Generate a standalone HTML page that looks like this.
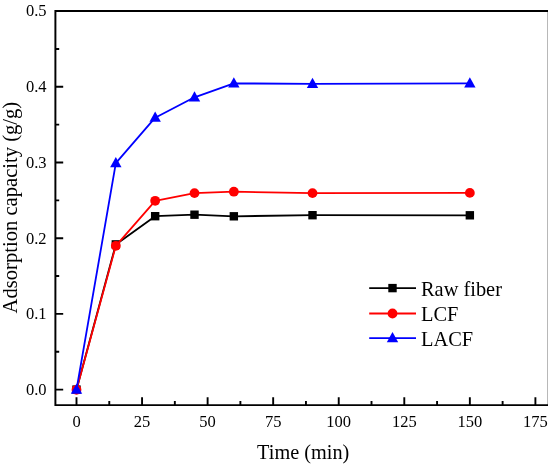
<!DOCTYPE html>
<html><head><meta charset="utf-8"><style>
html,body{margin:0;padding:0;background:#fff;}
svg{display:block;}
text{font-family:"Liberation Serif",serif;fill:#000;}
svg{will-change:transform;}
.tl{font-size:16.5px;}
.at{font-size:20.3px;}
.yt{font-size:20.6px;}
.lg{font-size:20.4px;}
</style></head><body>
<svg width="548" height="465" viewBox="0 0 548 465">
<rect width="548" height="465" fill="#fff"/>
<path d="M55.4,10.9 H548.7 V405.1 H55.4 Z" fill="none" stroke="#000" stroke-width="1.95"/>
<path d="M55.4,389.60 H63.2 M55.4,313.90 H63.2 M55.4,238.20 H63.2 M55.4,162.50 H63.2 M55.4,86.80 H63.2 M55.4,11.10 H63.2 M55.4,351.75 H59.2 M55.4,276.05 H59.2 M55.4,200.35 H59.2 M55.4,124.65 H59.2 M55.4,48.95 H59.2 M76.50,405.1 V397.2 M142.06,405.1 V397.2 M207.62,405.1 V397.2 M273.17,405.1 V397.2 M338.73,405.1 V397.2 M404.29,405.1 V397.2 M469.85,405.1 V397.2 M535.40,405.1 V397.2 M109.28,405.1 V401 M174.84,405.1 V401 M240.39,405.1 V401 M305.95,405.1 V401 M371.51,405.1 V401 M437.07,405.1 V401 M502.62,405.1 V401 M568.18,405.1 V401" stroke="#000" stroke-width="1.9" fill="none"/>
<text x="46.6" y="394.90" text-anchor="end" class="tl">0.0</text>
<text x="46.6" y="319.20" text-anchor="end" class="tl">0.1</text>
<text x="46.6" y="243.50" text-anchor="end" class="tl">0.2</text>
<text x="46.6" y="167.80" text-anchor="end" class="tl">0.3</text>
<text x="46.6" y="92.10" text-anchor="end" class="tl">0.4</text>
<text x="46.6" y="16.40" text-anchor="end" class="tl">0.5</text>
<text x="76.50" y="426.6" text-anchor="middle" class="tl">0</text>
<text x="142.06" y="426.6" text-anchor="middle" class="tl">25</text>
<text x="207.62" y="426.6" text-anchor="middle" class="tl">50</text>
<text x="273.17" y="426.6" text-anchor="middle" class="tl">75</text>
<text x="338.73" y="426.6" text-anchor="middle" class="tl">100</text>
<text x="404.29" y="426.6" text-anchor="middle" class="tl">125</text>
<text x="469.85" y="426.6" text-anchor="middle" class="tl">150</text>
<text x="535.40" y="426.6" text-anchor="middle" class="tl">175</text>
<text x="303.2" y="458.5" text-anchor="middle" class="at">Time (min)</text>
<text transform="translate(17,207.6) rotate(-90)" x="0" y="0" text-anchor="middle" class="yt">Adsorption capacity (g/g)</text>
<polyline points="76.50,389.60 115.83,244.40 155.17,216.20 194.50,214.70 233.84,216.30 312.51,215.20 469.85,215.30" fill="none" stroke="#000" stroke-width="1.8" stroke-linejoin="round"/>
<rect x="72.30" y="385.40" width="8.4" height="8.4" fill="#000"/>
<rect x="111.63" y="240.20" width="8.4" height="8.4" fill="#000"/>
<rect x="150.97" y="212.00" width="8.4" height="8.4" fill="#000"/>
<rect x="190.30" y="210.50" width="8.4" height="8.4" fill="#000"/>
<rect x="229.64" y="212.10" width="8.4" height="8.4" fill="#000"/>
<rect x="308.31" y="211.00" width="8.4" height="8.4" fill="#000"/>
<rect x="465.65" y="211.10" width="8.4" height="8.4" fill="#000"/>
<polyline points="76.50,389.80 115.83,245.80 155.17,200.80 194.50,193.10 233.84,191.70 312.51,193.10 469.85,192.90" fill="none" stroke="#f00" stroke-width="1.8" stroke-linejoin="round"/>
<circle cx="76.50" cy="389.80" r="4.9" fill="#f00"/>
<circle cx="115.83" cy="245.80" r="4.9" fill="#f00"/>
<circle cx="155.17" cy="200.80" r="4.9" fill="#f00"/>
<circle cx="194.50" cy="193.10" r="4.9" fill="#f00"/>
<circle cx="233.84" cy="191.70" r="4.9" fill="#f00"/>
<circle cx="312.51" cy="193.10" r="4.9" fill="#f00"/>
<circle cx="469.85" cy="192.90" r="4.9" fill="#f00"/>
<polyline points="76.50,389.70 115.83,163.20 155.17,117.70 194.50,97.30 233.84,83.40 312.51,83.80 469.85,83.40" fill="none" stroke="#00f" stroke-width="1.8" stroke-linejoin="round"/>
<polygon points="76.50,383.58 82.20,393.78 70.80,393.78" fill="#00f"/>
<polygon points="115.83,157.08 121.53,167.28 110.13,167.28" fill="#00f"/>
<polygon points="155.17,111.58 160.87,121.78 149.47,121.78" fill="#00f"/>
<polygon points="194.50,91.18 200.20,101.38 188.80,101.38" fill="#00f"/>
<polygon points="233.84,77.28 239.54,87.48 228.14,87.48" fill="#00f"/>
<polygon points="312.51,77.68 318.21,87.88 306.81,87.88" fill="#00f"/>
<polygon points="469.85,77.28 475.55,87.48 464.15,87.48" fill="#00f"/>
<line x1="369.2" y1="288.1" x2="416" y2="288.1" stroke="#000" stroke-width="1.8"/>
<rect x="388.30" y="283.90" width="8.4" height="8.4" fill="#000"/>
<text x="421" y="295.60" class="lg">Raw fiber</text>
<line x1="369.2" y1="313.5" x2="416" y2="313.5" stroke="#f00" stroke-width="1.8"/>
<circle cx="392.50" cy="313.50" r="4.9" fill="#f00"/>
<text x="421" y="321.00" class="lg">LCF</text>
<line x1="369.2" y1="338.2" x2="416" y2="338.2" stroke="#00f" stroke-width="1.8"/>
<polygon points="392.50,332.08 398.20,342.28 386.80,342.28" fill="#00f"/>
<text x="421" y="345.70" class="lg">LACF</text>
</svg>
</body></html>
